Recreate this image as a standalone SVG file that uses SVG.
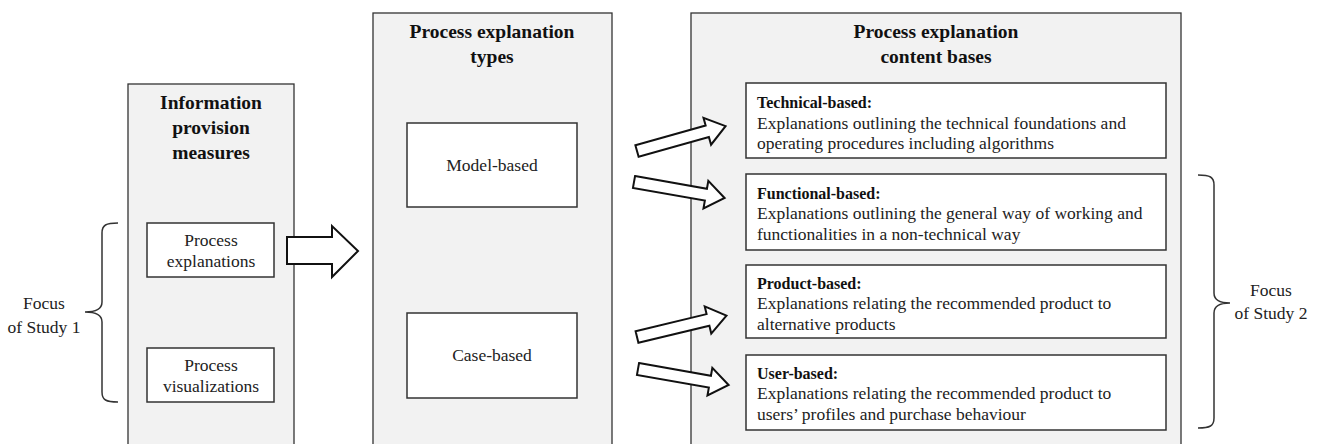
<svg xmlns="http://www.w3.org/2000/svg" width="1320" height="444" viewBox="0 0 1320 444">
<style>
.panel{fill:#f2f2f2;stroke:#333;stroke-width:1.3}
.box{fill:#fff;stroke:#333;stroke-width:1.5}
.t{font-family:"Liberation Serif","Times New Roman",serif;font-size:17.5px;fill:#222}
.c{text-anchor:middle}
.h{font-family:"Liberation Serif","Times New Roman",serif;font-size:19.5px;font-weight:bold;fill:#111;text-anchor:middle}
.hb{font-family:"Liberation Serif","Times New Roman",serif;font-size:16px;font-weight:bold;fill:#111}
.arr{fill:#fff;stroke:#111;stroke-width:2;stroke-linejoin:miter}
.brace{fill:none;stroke:#333;stroke-width:1.5}
</style>
<defs>
<polygon id="sa" points="0,-6 73,-6 73,-14 92,0 73,14 73,6 0,6"/>
</defs>
<rect width="1320" height="444" fill="#fff"/>

<g id="panel1">
<rect class="panel" x="128" y="84" width="166" height="370"/>
<text class="h" x="211" y="109">Information</text>
<text class="h" x="211" y="134">provision</text>
<text class="h" x="211" y="159">measures</text>
</g>
<g id="process-explanations">
<rect class="box" x="147" y="223" width="127" height="54"/>
<text class="t c" x="211" y="246">Process</text>
<text class="t c" x="211" y="267">explanations</text>
</g>
<g id="process-visualizations">
<rect class="box" x="147" y="348" width="127" height="54"/>
<text class="t c" x="211" y="371">Process</text>
<text class="t c" x="211" y="392">visualizations</text>
</g>

<g id="panel2">
<rect class="panel" x="373" y="13" width="239" height="441"/>
<text class="h" x="492" y="38">Process explanation</text>
<text class="h" x="492" y="63">types</text>
</g>
<g id="model-based">
<rect class="box" x="407" y="123" width="170" height="84"/>
<text class="t c" x="492" y="171">Model-based</text>
</g>
<g id="case-based">
<rect class="box" x="407" y="313" width="170" height="85"/>
<text class="t c" x="492" y="361">Case-based</text>
</g>

<g id="panel3">
<rect class="panel" x="691" y="13" width="490" height="441"/>
<text class="h" x="936" y="38">Process explanation</text>
<text class="h" x="936" y="63">content bases</text>
</g>
<g id="technical">
<rect class="box" x="746" y="83" width="420" height="75"/>
<text class="hb" x="757" y="108">Technical-based:</text>
<text class="t" x="757" y="129">Explanations outlining the technical foundations and</text>
<text class="t" x="757" y="149">operating procedures including algorithms</text>
</g>
<g id="functional">
<rect class="box" x="746" y="174" width="420" height="76"/>
<text class="hb" x="757" y="199">Functional-based:</text>
<text class="t" x="757" y="219">Explanations outlining the general way of working and</text>
<text class="t" x="757" y="240">functionalities in a non-technical way</text>
</g>
<g id="product">
<rect class="box" x="746" y="265" width="420" height="73"/>
<text class="hb" x="757" y="289">Product-based:</text>
<text class="t" x="757" y="309">Explanations relating the recommended product to</text>
<text class="t" x="757" y="330">alternative products</text>
</g>
<g id="user">
<rect class="box" x="746" y="355" width="420" height="75"/>
<text class="hb" x="757" y="379">User-based:</text>
<text class="t" x="757" y="399">Explanations relating the recommended product to</text>
<text class="t" x="757" y="420">users’ profiles and purchase behaviour</text>
</g>

<g id="focus1">
<path class="brace" d="M118,223 C106,223 102,225 102,233 L102,302 C102,309 96,312 85,312 C96,312 102,315 102,322 L102,392 C102,400 106,402 118,402"/>
<text class="t c" x="44" y="309">Focus</text>
<text class="t c" x="44" y="333">of Study 1</text>
</g>
<g id="focus2">
<path class="brace" d="M1198,175 C1210,175 1214,177 1214,185 L1214,293 C1214,300 1220,303 1230,303 C1220,303 1214,306 1214,313 L1214,418 C1214,426 1210,428 1198,428"/>
<text class="t c" x="1271" y="296">Focus</text>
<text class="t c" x="1271" y="319">of Study 2</text>
</g>

<g id="connectors">
<polygon class="arr" points="287,237 332,237 332,226 358,251 332,277 332,264 287,264"/>
<use href="#sa" class="arr" transform="translate(637,151) rotate(-15.7)"/>
<use href="#sa" class="arr" transform="translate(634,182) rotate(10)"/>
<use href="#sa" class="arr" transform="translate(637,337) rotate(-13.5)"/>
<use href="#sa" class="arr" transform="translate(638,369) rotate(10)"/>
</g>
</svg>
